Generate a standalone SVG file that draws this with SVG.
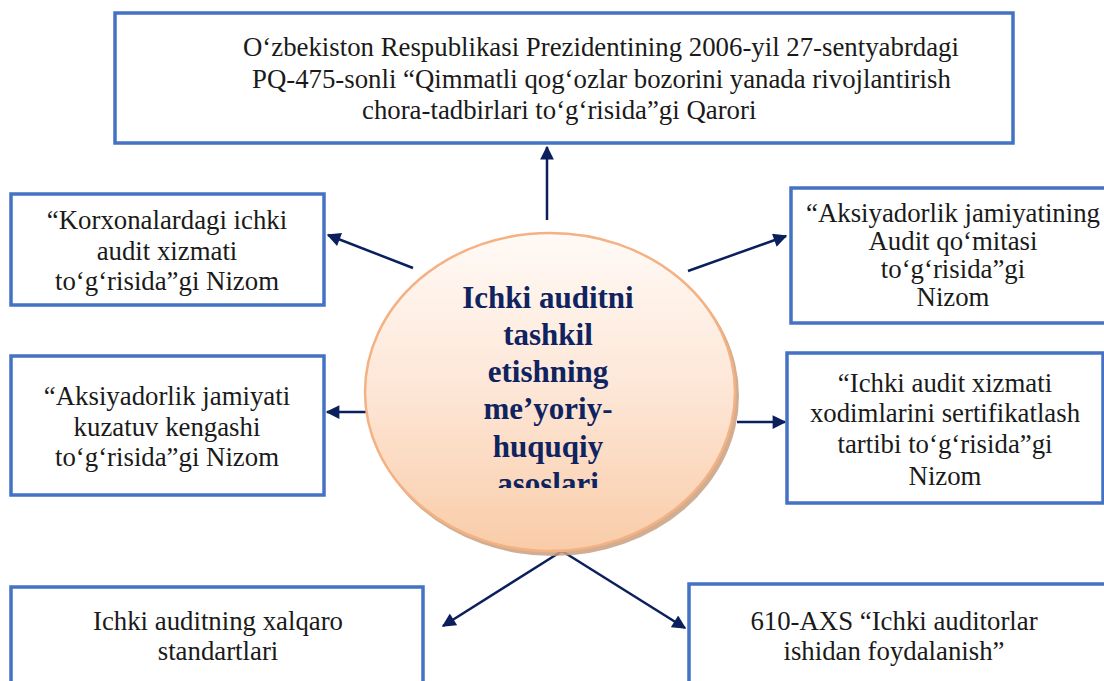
<svg xmlns="http://www.w3.org/2000/svg" width="1104" height="681" viewBox="0 0 1104 681">
<style>
.box{fill:#fff;stroke:#4472c4;stroke-width:3.5}
.t{font-family:'Liberation Serif',Tinos,'Times New Roman','DejaVu Serif',serif;font-size:26.8px;fill:#1a1a1a}
.c{text-anchor:middle}
.hub{font-family:'Liberation Serif',Tinos,'Times New Roman','DejaVu Serif',serif;font-size:31px;font-weight:bold;fill:#0f2360;text-anchor:middle}
.con{stroke:#0a1f5c;stroke-width:2.5;fill:none;marker-end:url(#ah)}
</style>
<defs>
<marker id="ah" viewBox="0 0 10 10" refX="9" refY="5" markerWidth="6" markerHeight="5.5" orient="auto" markerUnits="strokeWidth">
<path d="M0,0 L10,5 L0,10 Z" fill="#0a1f5c"/>
</marker>
<linearGradient id="g" x1="0" y1="0" x2="0" y2="1">
<stop offset="0" stop-color="#fffaf6"/>
<stop offset="0.5" stop-color="#fde6d6"/>
<stop offset="1" stop-color="#f9cca8"/>
</linearGradient>
<clipPath id="clip"><rect x="300" y="220" width="500" height="268"/></clipPath>
</defs>

<g id="connectors">
<line class="con" x1="547" y1="220" x2="547" y2="147"/>
<line class="con" x1="413" y1="268" x2="328" y2="235"/>
<line class="con" x1="367" y1="412" x2="327" y2="412"/>
<line class="con" x1="688" y1="271" x2="786" y2="236"/>
<line class="con" x1="737" y1="422" x2="785" y2="422"/>
<line class="con" x1="562" y1="551" x2="443" y2="626"/>
<line class="con" x1="562" y1="551" x2="685" y2="628"/>
</g>

<g id="top">
<rect class="box" x="115" y="13" width="898" height="130"/>
<text class="t" x="243" y="56">O‘zbekiston Respublikasi Prezidentining 2006-yil 27-sentyabrdagi</text>
<text class="t" x="252" y="88">PQ-475-sonli “Qimmatli qog‘ozlar bozorini yanada rivojlantirish</text>
<text class="t" x="362" y="119">chora-tadbirlari to‘g‘risida”gi Qarori</text>
</g>

<g id="left1">
<rect class="box" x="11" y="194" width="313" height="111"/>
<text class="t c" x="167" y="229">“Korxonalardagi ichki</text>
<text class="t c" x="167" y="260">audit xizmati</text>
<text class="t c" x="167" y="290">to‘g‘risida”gi Nizom</text>
</g>

<g id="left2">
<rect class="box" x="11" y="356" width="313" height="139"/>
<text class="t c" x="167" y="405">“Aksiyadorlik jamiyati</text>
<text class="t c" x="167" y="436">kuzatuv kengashi</text>
<text class="t c" x="167" y="466">to‘g‘risida”gi Nizom</text>
</g>

<g id="right1">
<rect class="box" x="791" y="188" width="320" height="135"/>
<text class="t c" x="953" y="222">“Aksiyadorlik jamiyatining</text>
<text class="t c" x="953" y="250">Audit qo‘mitasi</text>
<text class="t c" x="953" y="278">to‘g‘risida”gi</text>
<text class="t c" x="953" y="306">Nizom</text>
</g>

<g id="right2">
<rect class="box" x="787" y="353" width="316" height="150"/>
<text class="t c" x="945" y="392">“Ichki audit xizmati</text>
<text class="t c" x="945" y="422">xodimlarini sertifikatlash</text>
<text class="t c" x="945" y="453">tartibi to‘g‘risida”gi</text>
<text class="t c" x="945" y="485">Nizom</text>
</g>

<g id="bottom-left">
<rect class="box" x="11" y="587" width="412" height="110"/>
<text class="t c" x="218" y="630">Ichki auditning xalqaro</text>
<text class="t c" x="218" y="660">standartlari</text>
</g>

<g id="bottom-right">
<rect class="box" x="689" y="584" width="420" height="110"/>
<text class="t c" x="894" y="630">610-AXS “Ichki auditorlar</text>
<text class="t c" x="894" y="660">ishidan foydalanish”</text>
</g>

<g id="hub">
<ellipse cx="553" cy="396" rx="186" ry="160" fill="#c9a07f" opacity="0.85"/>
<ellipse cx="550" cy="392" rx="185" ry="159" fill="url(#g)" stroke="#f4b183" stroke-width="2.5"/>
<g clip-path="url(#clip)">
<text class="hub" x="548" y="308">Ichki auditni</text>
<text class="hub" x="548" y="345">tashkil</text>
<text class="hub" x="548" y="382">etishning</text>
<text class="hub" x="548" y="419">me’yoriy-</text>
<text class="hub" x="548" y="457">huquqiy</text>
<text class="hub" x="548" y="494">asoslari</text>
</g>
</g>
</svg>
